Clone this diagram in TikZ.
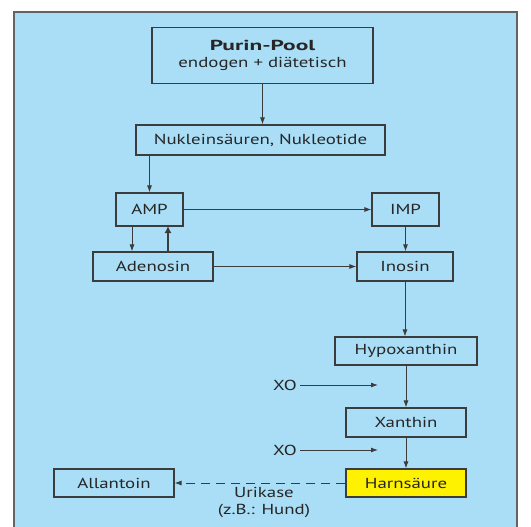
\documentclass[tikz,border=0pt]{standalone}
\usepackage{fontspec}
\usepackage{graphicx}
\setmainfont[FakeStretch=1.3]{PT Sans}
\usetikzlibrary{arrows.meta}
\definecolor{bgblue}{HTML}{A9DEF6}
\definecolor{linegray}{HTML}{3C3C3C}
\definecolor{hyellow}{HTML}{FFF200}
\tikzset{
  box/.style={draw=linegray, line width=1.1pt, inner sep=0pt, align=center, font=\fontsize{14.5}{17}\selectfont, text=black!85},
  arr/.style={draw=linegray, line width=0.9pt, -{Latex[length=7pt,width=5pt]}},
  lbl/.style={inner sep=0pt, align=center, font=\fontsize{14.5}{17}\selectfont, text=black!85}
}
\begin{document}
\begin{tikzpicture}[x=1pt,y=-1pt]
\useasboundingbox (0,0) rectangle (531,527);
\fill[white] (0,0) rectangle (531,527);
\draw[draw=linegray!80, line width=1.2pt, fill=bgblue] (14,12) -- (517,12) -- (517,530) -- (14,530) -- cycle;
\node[box, minimum width=221pt, minimum height=56pt] (pool) at (262.5,55.5) {\scalebox{1.24}[1]{\fontsize{14.5}{17}\selectfont\bfseries Purin-Pool}\\endogen + diätetisch};
\node[box, minimum width=249pt, minimum height=30pt] (nuk) at (260.5,140) {Nukleinsäuren, Nukleotide};
\node[box, minimum width=67pt, minimum height=33pt] (amp) at (149.5,209.5) {AMP};
\node[box, minimum width=67pt, minimum height=33pt] (imp) at (405.5,209.5) {IMP};
\node[box, minimum width=120pt, minimum height=29pt] (ade) at (153,266.5) {Adenosin};
\node[box, minimum width=96pt, minimum height=29pt] (ino) at (405,266.5) {Inosin};
\node[box, minimum width=142pt, minimum height=28pt] (hyp) at (406,351) {Hypoxanthin};
\node[box, minimum width=120pt, minimum height=29pt] (xan) at (406,422.5) {Xanthin};
\node[box, fill=hyellow, minimum width=120pt, minimum height=28pt] (har) at (406,483) {Harnsäure};
\node[box, minimum width=120pt, minimum height=28pt] (all) at (114,483) {Allantoin};
\node[lbl, anchor=east] (xo1) at (297,385) {XO};
\node[lbl, anchor=east] (xo2) at (297,450) {XO};
\node[lbl] (uri) at (264,502.5) {Urikase\\(z.B.: Hund)};
\coordinate (xo1end) at (378,385);
\coordinate (xo2end) at (378,450);
\coordinate (amp1) at (132,226);
\coordinate (amp2) at (168,226);
\draw[arr] (pool.south) -- (pool.south |- nuk.north);
\draw[arr] (nuk.south -| amp.north) -- (amp.north);
\draw[arr] (amp1) -- (amp1 |- ade.north);
\draw[draw=linegray, line width=2.6pt, -{Latex[length=7pt,width=7pt]}] (amp2 |- ade.north) -- (amp2);
\draw[arr] (amp.east) -- (imp.west);
\draw[arr] (imp.south) -- (imp.south |- ino.north);
\draw[arr] (ade.east) -- (ino.west);
\draw[arr] (ino.south) -- (ino.south |- hyp.north);
\draw[arr] (hyp.south) -- (xan.north);
\draw[arr] (xan.south) -- (har.north);
\draw[arr] ([xshift=3pt]xo1.east) -- (xo1end);
\draw[arr] ([xshift=3pt]xo2.east) -- (xo2end);
\draw[arr, dash pattern=on 9pt off 6pt] (har.west) -- (all.east);
\end{tikzpicture}
\end{document}
